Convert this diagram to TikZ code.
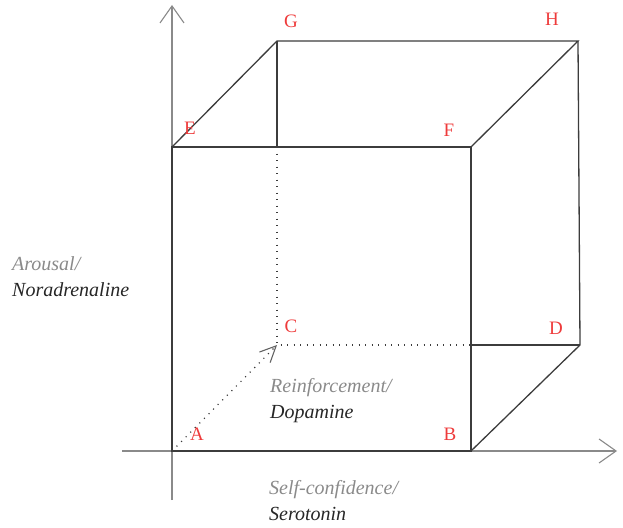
\documentclass[tikz,border=0pt]{standalone}
\usepackage{fontspec}
\setmainfont{Liberation Serif}
\usepackage{xcolor}
\usetikzlibrary{arrows.meta,positioning}
\definecolor{edgegray}{HTML}{3C3C3C}
\definecolor{axisgray}{HTML}{8A8A8A}
\definecolor{labelred}{HTML}{EE3B3B}

\begin{document}
\begin{tikzpicture}[
  x=1pt, y=-1pt,
  every node/.style={inner sep=0pt},
  edge/.style={draw=edgegray, line width=1.3pt},
  hidden/.style={draw=edgegray, line width=1.2pt, dash pattern=on 1.1pt off 5.4pt},
  axis/.style={draw=axisgray, line width=1.1pt, -{Straight Barb[length=17pt, width=24pt, line width=1.1pt]}},
  corner/.style={text=labelred, font=\fontsize{19}{21}\selectfont},
  axname/.style={anchor=base west, text=axisgray, font=\fontsize{20}{22}\selectfont\itshape},
  chem/.style={anchor=base west, text=black!85, font=\fontsize{20}{22}\selectfont\itshape}
]
\useasboundingbox (0,0) rectangle (623,527);

% cube corners
\coordinate (A) at (172,451);
\coordinate (B) at (471,451);
\coordinate (C) at (277,345);
\coordinate (D) at (580,345);
\coordinate (E) at (172,147);
\coordinate (F) at (471,147);
\coordinate (G) at (277,41);
\coordinate (H) at (578,41);
\coordinate (GE) at (277,147);
\coordinate (CB) at (471,345);

% axes
\coordinate (yfoot) at (172,500);
\coordinate (ytip) at (172,5);
\coordinate (xfoot) at (122,451);
\coordinate (xtip) at (617,451);
\draw[axis] (yfoot) -- (ytip);
\draw[axis] (xfoot) -- (xtip);

% visible edges
\draw[edge] (A) -- (B) -- (F) -- (E) -- cycle;
\draw[edge] (E) -- (G) -- (H) -- (F);
\draw[edge] (H) -- (D) -- (B);
\draw[edge] (CB) -- (D);
\draw[edge] (G) -- (GE);

% hidden edges
\draw[hidden] (GE) -- (C) -- (CB);
\draw[hidden, -{Straight Barb[length=16pt, width=15pt, line width=1.1pt, color=edgegray!80]}] (A) -- (C);

% corner letters
\node[corner] (lA) at (197,434) {A};
\node[corner] (lB) at (450,434) {B};
\node[corner] (lC) at (291,326) {C};
\node[corner] (lD) at (556,328) {D};
\node[corner] (lE) at (190,128) {E};
\node[corner] (lF) at (449,130) {F};
\node[corner] (lG) at (291,21) {G};
\node[corner] (lH) at (552,19) {H};

% axis names
\node[axname] (arousal) at (12,270) {Arousal/};
\node[chem] (noradrenaline) at (12,296) {Noradrenaline};
\node[axname] (reinforcement) at (270,392) {Reinforcement/};
\node[chem] (dopamine) at (270,418) {Dopamine};
\node[axname] (selfconf) at (269,494) {Self-confidence/};
\node[chem] (serotonin) at (269,520) {Serotonin};
\end{tikzpicture}
\end{document}
